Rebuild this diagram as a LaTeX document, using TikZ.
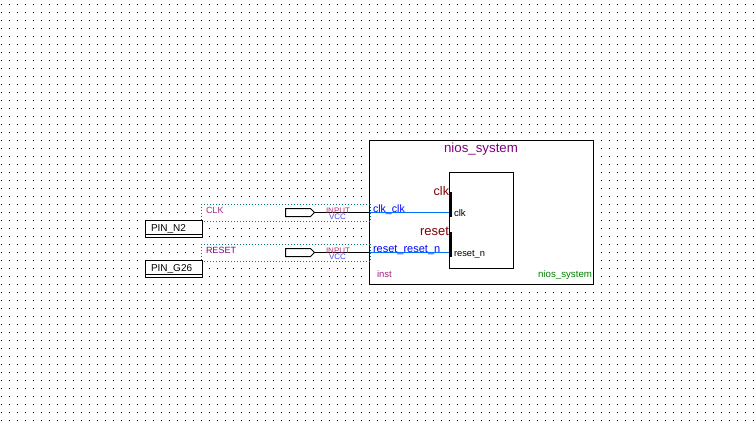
\documentclass[tikz,border=0pt]{standalone}
\usepackage{fontspec}
\setmainfont{Liberation Sans}
\newcommand{\pxfont}[1]{\edef\pxsize{\the\dimexpr #1pt*3/4\relax}\fontsize{\pxsize}{\pxsize}\selectfont}
\definecolor{gridteal}{HTML}{007878}
\definecolor{sigblue}{HTML}{0070FF}
\definecolor{portred}{HTML}{800000}
\definecolor{titlepurple}{HTML}{800080}
\definecolor{labelpink}{HTML}{A02880}
\definecolor{inputpink}{HTML}{B83070}
\definecolor{vccblue}{HTML}{4848FF}
\definecolor{instgreen}{HTML}{008000}
\tikzset{
  x=0.75pt,y=-0.75pt,
  wire/.style={line width=0.75pt,draw=black},
  box/.style={draw=black,fill=white,line width=0.75pt,inner sep=0pt,outer sep=0pt,anchor=north west},
  zone/.style={draw=gridteal,line width=0.75pt,dash pattern=on 0.75pt off 1.5pt},
  lab/.style={inner sep=0pt,outer sep=0pt,anchor=base west},
  labr/.style={inner sep=0pt,outer sep=0pt,anchor=base east},
  labc/.style={inner sep=0pt,outer sep=0pt,anchor=base}
}
\begin{document}
\begin{tikzpicture}
\useasboundingbox (0,0) rectangle (754,425);
\fill[white] (0,0) rectangle (754,425);
% dot grid
\foreach \gx in {0,...,94}{
  \foreach \gy in {0,...,52}{
    \fill[black] ({1+8*\gx},{4+8*\gy}) rectangle +(1,1);
  }
}
% signal zones: white ground
\fill[white] (201,204) rectangle (371,222);
\fill[white] (201,244) rectangle (371,262);
% main symbol
\node[box,minimum width=168pt,minimum height=108pt] (sys) at (369.5,140.5) {};
% dotted signal zones
\draw[zone] (201,204.5) -- (371,204.5) (201,221.5) -- (371,221.5);
\draw[zone] (201,244.5) -- (371,244.5) (201,261.5) -- (371,261.5);
\draw[zone] (201.5,204) -- (201.5,222) (201.5,244) -- (201.5,262);
\draw[zone] (370.5,204) -- (370.5,222) (370.5,244) -- (370.5,262);
\node[box,minimum width=48pt,minimum height=72pt] (chip) at (449.5,172.5) {};
% pin assignment boxes
\node[box,minimum width=42.75pt,minimum height=12.75pt] (pinA) at (145.5,220.5) {};
\node[box,minimum width=42.75pt,minimum height=12.75pt] (pinB) at (145.5,260.5) {};
\draw[wire] (145.5,234.5) -- (202.5,234.5) (145.5,274.5) -- (202.5,274.5);
% input pins
\coordinate (tipA) at (314.5,212.5);
\coordinate (tipB) at (314.5,252.5);
\draw[box] (285.5,208.5) -- (310.5,208.5) -- (tipA) -- (310.5,216.5) -- (285.5,216.5) -- cycle;
\draw[box] (285.5,248.5) -- (310.5,248.5) -- (tipB) -- (310.5,256.5) -- (285.5,256.5) -- cycle;
\draw[wire] (tipA) -- (sys.west |- tipA);
\draw[wire] (tipB) -- (sys.west |- tipB);
\draw[sigblue,line width=0.75pt] (sys.west |- tipA) -- (chip.west |- tipA);
\draw[sigblue,line width=0.75pt] (sys.west |- tipB) -- (chip.west |- tipB);
% port bars
\fill[black] (449,192) rectangle (452,217);
\fill[black] (449,232) rectangle (452,257);
% texts
\node[lab] (tpinA) at (151,231) {\pxfont{10}PIN\_N2};
\node[lab] (tpinB) at (151,271) {\pxfont{10}PIN\_G26};
\node[lab,text=labelpink] (tclk) at (206,213) {\pxfont{9}CLK};
\node[lab,text=titlepurple] (treset) at (206,253) {\pxfont{9}RESET};
\node[lab,text=inputpink] (tinA) at (326,213) {\pxfont{8}INPUT};
\node[lab,text=inputpink] (tinB) at (326,253) {\pxfont{8}INPUT};
\node[lab,text=vccblue] (tvA) at (329,219.5) {\pxfont{8}VCC};
\node[lab,text=vccblue] (tvB) at (329,259.5) {\pxfont{8}VCC};
\node[labc,text=titlepurple] (ttitle) at (481,152) {\pxfont{13.3}nios\_system};
\node[lab,text=blue] (tcc) at (373,212) {\pxfont{10.6}clk\_clk};
\node[lab,text=blue] (trr) at (373,252) {\pxfont{11}reset\_reset\_n};
\node[labr,text=portred] (tpc) at (449,195) {\pxfont{12.5}clk};
\node[labr,text=portred] (tpr) at (449,235) {\pxfont{13}reset};
\node[lab] (tc) at (454,216) {\pxfont{9.6}clk};
\node[lab] (tr) at (454,256) {\pxfont{9.3}reset\_n};
\node[lab,text=labelpink] (tinst) at (377,277) {\pxfont{9.5}inst};
\node[labr,text=instgreen] (tname) at (592,277) {\pxfont{9.7}nios\_system};
\end{tikzpicture}
\end{document}
